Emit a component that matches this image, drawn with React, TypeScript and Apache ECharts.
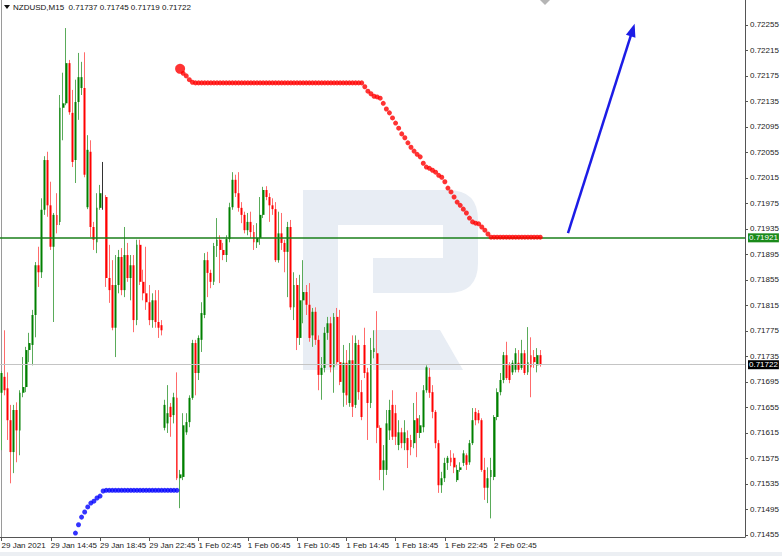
import React, { useEffect, useRef } from "react";
import * as echarts from "echarts";

// ---- data (prices stored in points: price = PRICE_BASE + points / 100000) ----
const PRICE_BASE = 0.7;
const symbolName = "NZDUSD,M15";
const timeTickLabels = [
  "29 Jan 2021", "29 Jan 14:45", "29 Jan 18:45", "29 Jan 22:45", "1 Feb 02:45", "1 Feb 06:45",
  "1 Feb 10:45", "1 Feb 14:45", "1 Feb 18:45", "1 Feb 22:45", "2 Feb 02:45",
];
const BARS_PER_TICK = 16;
const CATEGORY_COUNT = 242;
const priceTicks = [
  "0.71455", "0.71495", "0.71535", "0.71575", "0.71615", "0.71655", "0.71695", "0.71735",
  "0.71775", "0.71815", "0.71855", "0.71895", "0.71935", "0.71975", "0.72015", "0.72055",
  "0.72095", "0.72135", "0.72175", "0.72215", "0.72255",
];
const yMin = 0.714518;
const yMax = 0.72294;

// [open, close, low, high] in points
const candles: number[][] = [
  [1678,1709,1588,1712],[1703,1682,1674,1776],[1685,1635,1604,1710],[1635,1585,1536,1659],
  [1585,1651,1552,1659],[1651,1619,1569,1663],[1619,1678,1580,1682],[1678,1687,1671,1734],
  [1687,1745,1679,1750],[1745,1756,1726,1772],[1753,1800,1721,1808],[1800,1878,1765,1883],
  [1878,1867,1844,1907],[1867,1965,1858,1983],[1965,2043,1957,2049],[2043,1972,1954,2056],
  [1972,1907,1902,2009],[1907,1957,1789,1960],[1957,1941,1928,1991],[1946,2125,1941,2145],
  [2125,2132,2074,2180],[2132,2195,2129,2250],[2195,2118,2114,2200],[2117,2040,2032,2153],
  [2043,2134,2007,2169],[2134,2173,2106,2211],[2156,2173,2145,2197],[2156,2020,2016,2212],
  [1969,2059,1966,2082],[2056,1938,1922,2074],[1938,1918,1902,1946],[1914,1968,1897,1991],
  [1968,1991,1965,2004],[1988,1988,1965,2040],[1985,1858,1844,1988],[1858,1839,1819,1910],
  [1847,1780,1776,1886],[1780,1847,1734,1894],[1847,1891,1834,1902],[1891,1839,1831,1905],
  [1839,1894,1828,1938],[1894,1858,1852,1913],[1858,1878,1823,1894],[1878,1792,1773,1894],
  [1792,1910,1784,1918],[1910,1852,1847,1918],[1852,1834,1823,1871],[1834,1820,1808,1907],
  [1820,1792,1784,1847],[1792,1823,1780,1834],[1823,1789,1780,1839],[1789,1780,1764,1839],
  [1784,1776,1768,1792],[1623,1659,1619,1667],[1630,1646,1615,1690],[1656,1640,1609,1662],
  [1643,1671,1630,1678],[1670,1544,1541,1710],[1544,1550,1497,1557],[1546,1627,1541,1646],
  [1616,1632,1612,1646],[1632,1670,1624,1674],[1670,1756,1667,1761],[1756,1709,1674,1761],
  [1709,1764,1698,1768],[1761,1803,1742,1820],[1800,1886,1795,1897],[1886,1866,1828,1899],
  [1866,1852,1842,1871],[1852,1908,1847,1913],[1908,1918,1891,1952],[1918,1902,1850,1925],
  [1902,1894,1886,1913],[1894,1919,1883,1925],[1919,1969,1914,1976],[1969,2012,1965,2024],
  [2012,1991,1985,2020],[1991,1968,1962,2024],[1968,1957,1944,1977],[1957,1933,1928,1962],
  [1933,1946,1925,1960],[1946,1930,1921,1962],[1930,1914,1902,1941],[1914,1921,1905,1944],
  [1921,1957,1910,1985],[1957,1996,1952,2001],[1996,1985,1980,2002],[1985,1972,1946,1991],
  [1972,1966,1957,1983],[1966,1886,1883,1977],[1886,1928,1882,1962],[1928,1913,1902,1960],
  [1913,1899,1867,1918],[1899,1938,1828,1946],[1938,1812,1808,1949],[1812,1847,1792,1867],
  [1847,1764,1745,1858],[1764,1823,1753,1863],[1823,1836,1787,1886],[1836,1816,1800,1847],
  [1816,1764,1758,1850],[1768,1805,1750,1811],[1805,1761,1753,1812],[1761,1706,1682,1768],
  [1706,1717,1667,1734],[1717,1772,1710,1781],[1772,1787,1761,1797],[1787,1718,1710,1797],
  [1718,1797,1678,1803],[1797,1726,1721,1811],[1726,1695,1690,1808],[1678,1725,1656,1753],
  [1725,1674,1659,1745],[1662,1729,1656,1756],[1729,1656,1640,1768],[1659,1756,1654,1768],
  [1753,1679,1667,1761],[1679,1640,1635,1698],[1753,1709,1701,1780],[1710,1662,1604,1717],
  [1662,1745,1654,1764],[1742,1748,1732,1776],[1740,1623,1599,1806],[1623,1557,1541,1627],
  [1557,1572,1525,1596],[1557,1630,1549,1651],[1619,1651,1604,1667],[1659,1609,1604,1682],
  [1646,1609,1596,1659],[1596,1616,1588,1635],[1616,1599,1591,1623],[1599,1616,1588,1635],
  [1607,1588,1560,1619],[1604,1593,1580,1612],[1599,1635,1591,1662],[1638,1615,1577,1679],
  [1615,1627,1607,1643],[1624,1682,1616,1690],[1682,1718,1678,1721],[1703,1678,1670,1717],
  [1679,1648,1638,1690],[1648,1599,1591,1651],[1599,1533,1521,1604],[1533,1544,1521,1554],
  [1544,1568,1538,1576],[1568,1576,1557,1579],[1576,1569,1563,1588],[1576,1561,1552,1583],
  [1541,1557,1538,1565],[1557,1561,1554,1569],[1568,1583,1563,1588],[1580,1565,1557,1583],
  [1569,1599,1565,1604],[1599,1635,1596,1654],[1648,1635,1627,1654],[1646,1635,1630,1651],
  [1635,1557,1554,1638],[1557,1529,1510,1576],[1529,1544,1505,1561],[1546,1557,1481,1576],
  [1546,1640,1541,1643],[1640,1679,1635,1685],[1679,1698,1674,1709],[1698,1737,1693,1742],
  [1737,1701,1698,1758],[1721,1698,1693,1726],[1710,1725,1706,1729],[1714,1740,1710,1748],
  [1725,1714,1710,1745],[1717,1740,1714,1761],[1740,1709,1706,1745],[1710,1726,1706,1781],
  [1737,1718,1671,1765],[1734,1726,1717,1745],[1721,1737,1710,1748],[1737,1722,1719,1745],
];

const blueDotsStart = 24;
const blueDots = [
  1458,1471,1483,1491,1499,1505,1508,1513,1516,1524,
  1525,1525,1525,1525,1525,1525,1525,1525,1525,1525,1525,1525,
  1525,1525,1525,1525,1525,1525,1525,1525,1525,1525,1525,1525,
];

const redDotsStart = 58;
const redDots = [
  2186,2179,2175,2169,2165,
  2164,2164,2164,2164,2164,2164,2164,2164,2164,2164,2164,2164,2164,2164,2164,2164,2164,2164,2164,2164,
  2164,2164,2164,2164,2164,2164,2164,2164,2164,2164,2164,2164,2164,2164,2164,2164,2164,2164,2164,2164,
  2164,2164,2164,2164,2164,2164,2164,2164,2164,2164,2164,2164,2164,2164,2164,
  2158,2151,2147,2143,2142,2140,2132,2123,2117,2109,2101,2093,2084,2078,2070,2063,2057,2052,2048,2038,
  2032,2030,2027,2024,2019,2016,2009,1999,1993,1985,1977,1972,1966,1960,1952,1946,1944,1943,1938,1933,
  1927,1922,
  1922,1922,1922,1922,1922,1922,1922,1922,1922,1922,1922,1922,1922,1922,1922,1922,
];

const levelGreen = 0.71921;
const levelLast = 0.71722;
const arrowFrom = [184, 0.719285];
const arrowTo = [205, 0.72247];

// ---- helpers ----
const toPrice = (p: number) => +(PRICE_BASE + p / 100000).toFixed(5);
const FONT = '"Liberation Sans", Arial, sans-serif';
const FS = 8;

const LOGO_D =
  "M303,190 L448,190 Q478,190 478,220 L478,263 Q478,293 448,293 L373,293 L373,258 L443,258 L443,225 L338,225 L338,370 L303,370 Z " +
  "M373,330 L440,330 L463,370 L373,370 Z";
let logoRegistered = false;
function registerLogo() {
  if (logoRegistered) return;
  echarts.graphic.registerShape("rLogo", echarts.graphic.extendPath(LOGO_D, {}) as any);
  logoRegistered = true;
}

export default function App() {
  const ref = useRef<HTMLDivElement>(null);

  useEffect(() => {
    if (!ref.current) return;
    registerLogo();
    const chart = echarts.init(ref.current, undefined, { renderer: "svg" });

    const categories = Array.from({ length: CATEGORY_COUNT }, (_, i) => String(i));
    const wickData = candles.map((c) => [toPrice(c[0]), toPrice(c[1]), toPrice(c[2]), toPrice(c[3])]);
    const bodyData = candles.map((c) => [
      toPrice(c[0]), toPrice(c[1]), toPrice(Math.min(c[0], c[1])), toPrice(Math.max(c[0], c[1])),
    ]);
    const blueData = blueDots.map((v, i) => [blueDotsStart + i, toPrice(v)]);
    const redData = redDots.map((v, i) => [redDotsStart + i, toPrice(v)]);
    const last = candles[candles.length - 1];
    const header =
      symbolName + "  " + [last[0], last[3], last[2], last[1]].map((v) => toPrice(v).toFixed(5)).join(" ");

    const tickShown = (i: number) => i % BARS_PER_TICK === 0 && i / BARS_PER_TICK < timeTickLabels.length;

    chart.setOption({
      animation: false,
      grid: { left: 0, right: 37, top: 0, bottom: 19, containLabel: false, outerBoundsMode: "none" },
      xAxis: {
        type: "category",
        data: categories,
        boundaryGap: true,
        axisLine: { show: true, lineStyle: { color: "#555", width: 1 } },
        axisTick: { show: true, alignWithLabel: true, interval: (i: number) => tickShown(i), length: 4, lineStyle: { color: "#555" } },
        axisLabel: {
          show: true,
          showMinLabel: true,
          interval: (i: number) => tickShown(i),
          formatter: (_v: string, i: number) => timeTickLabels[Math.round(i / BARS_PER_TICK)] || "",
          align: "left",
          margin: 4,
          fontSize: FS,
          fontFamily: FONT,
          color: "#222",
        },
        splitLine: { show: false },
      },
      yAxis: {
        type: "value",
        position: "right",
        min: yMin,
        max: yMax,
        axisLine: { show: true, lineStyle: { color: "#555", width: 1 } },
        axisTick: { show: true, length: 3, customValues: priceTicks.map(Number), lineStyle: { color: "#555" } },
        axisLabel: {
          show: true,
          customValues: priceTicks.map(Number),
          formatter: (v: number) => v.toFixed(5),
          margin: 5,
          fontSize: FS,
          fontFamily: FONT,
          color: "#222",
        },
        splitLine: { show: false },
      },
      graphic: [
        { type: "rLogo", x: 0, y: 0, z: 0, silent: true, style: { fill: "#e8edf4" } },
        { type: "line", z: 1, silent: true, shape: { x1: 1.5, y1: 0, x2: 1.5, y2: 537 }, style: { stroke: "#9a9a9a", lineWidth: 1 } },
        { type: "polygon", z: 5, silent: true, shape: { points: [[4, 5], [10, 5], [7, 9]] }, style: { fill: "#111" } },
        {
          type: "text", z: 5, silent: true, x: 13, y: 3,
          style: { text: header, fontSize: FS, fontFamily: FONT, fill: "#111" },
        },
        { type: "polygon", z: 5, silent: true, shape: { points: [[540, 0], [550, 0], [545, 5]] }, style: { fill: "#b5b5b5" } },
        { type: "rect", z: 0, silent: true, shape: { x: 0, y: 552, width: 782, height: 4 }, style: { fill: "#eceff3" } },
      ],
      series: [
        {
          name: "wicks",
          type: "candlestick",
          data: wickData,
          barWidth: 1,
          z: 3,
          silent: true,
          itemStyle: {
            color: "#5aab5a", color0: "#ff6b6b",
            borderColor: "#5aab5a", borderColor0: "#ff6b6b",
            borderColorDoji: "#333", borderWidth: 1,
          },
        },
        {
          name: "bodies",
          type: "candlestick",
          data: bodyData,
          barWidth: 2.4,
          z: 4,
          silent: true,
          itemStyle: {
            color: "#008000", color0: "#ff0000",
            borderColor: "#008000", borderColor0: "#ff0000",
            borderColorDoji: "#333", borderWidth: 0,
          },
        },
        {
          name: "blue",
          type: "scatter",
          data: blueData,
          symbolSize: 5,
          z: 5,
          silent: true,
          itemStyle: { color: "#0000ff" },
        },
        {
          name: "red",
          type: "scatter",
          data: redData,
          symbolSize: (_v: any, p: any) => (p.dataIndex === 0 ? 10 : 5),
          z: 5,
          silent: true,
          itemStyle: { color: "#ff0000" },
          markLine: {
            silent: true,
            animation: false,
            precision: 5,
            symbol: ["none", "none"],
            data: [
              {
                yAxis: levelGreen,
                lineStyle: { color: "#1a7f1a", width: 1.6, type: "solid" },
                label: {
                  show: true, position: "end", formatter: levelGreen.toFixed(5), distance: 3,
                  backgroundColor: "#1a8a1a", color: "#fff", padding: [1, 1, 0, 1],
                  fontSize: FS, fontFamily: FONT,
                },
              },
              {
                yAxis: levelLast,
                lineStyle: { color: "#c4c4c4", width: 1, type: "solid" },
                label: {
                  show: true, position: "end", formatter: levelLast.toFixed(5), distance: 3,
                  backgroundColor: "#000", color: "#fff", padding: [1, 1, 0, 1],
                  fontSize: FS, fontFamily: FONT,
                },
              },
              [
                { coord: arrowFrom, symbol: "none", lineStyle: { color: "#1c1ce6", width: 2.5, type: "solid" }, label: { show: false } },
                { coord: arrowTo, symbol: "triangle", symbolSize: [10, 13] },
              ],
            ],
          },
        },
      ],
    } as any);

    return () => chart.dispose();
  }, []);

  return <div ref={ref} style={{ position: "absolute", left: 0, top: 0, width: 782, height: 556 }} />;
}
